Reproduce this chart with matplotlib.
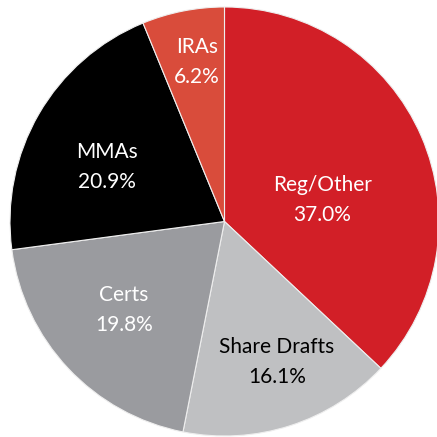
import matplotlib.pyplot as plt

labels = ['Reg/Other', 'Share Drafts', 'Certs', 'MMAs', 'IRAs']
shares = [37.0, 16.1, 19.8, 20.9, 6.2]

colors = ['#d21f27', '#bfc0c2', '#9a9b9f', '#000000', '#d94c3b']
text_colors = ['white', 'black', 'white', 'white', 'white']
# label placement in axis units (radius = 1)
label_pos = [(0.455, 0.10), (0.245, -0.655), (-0.468, -0.413), (-0.547, 0.254), (-0.128, 0.744)]

plt.rcParams['font.family'] = ['Lato', 'DejaVu Sans']

fig = plt.figure(figsize=(4.37, 4.37), dpi=100)
ax = fig.add_axes([0.0, 0.0, 1.0, 1.0])

ax.pie(shares, colors=colors, startangle=90, counterclock=False,
       wedgeprops=dict(edgecolor='#eeeeee', linewidth=0.8), radius=1.0)

for lab, val, (x, y), tc in zip(labels, shares, label_pos, text_colors):
    ax.text(x, y, f'{lab}\n{val:.1f}%', ha='center', va='center',
            color=tc, fontsize=15, linespacing=1.6)

ax.set_xlim(-1.0466, 0.9907)
ax.set_ylim(-1.0047, 1.0326)
ax.axis('off')

fig.savefig('out.png', dpi=100)
